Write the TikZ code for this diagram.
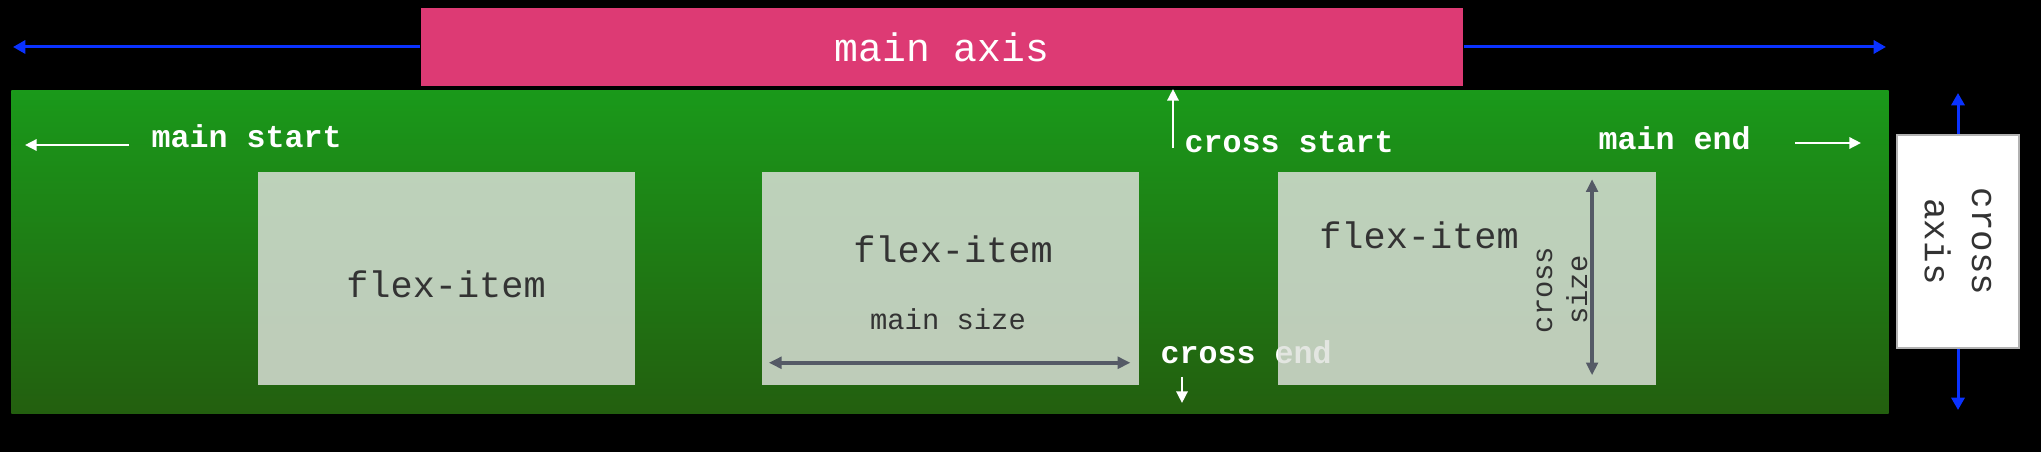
\documentclass[tikz,border=0pt]{standalone}
\usepackage{fontspec}
\setmonofont{Liberation Mono}
\usetikzlibrary{arrows.meta, positioning}
\definecolor{axispink}{RGB}{221,58,116}
\definecolor{axisblue}{RGB}{10,50,255}
\definecolor{flextop}{RGB}{26,153,26}
\definecolor{flexbottom}{RGB}{35,95,15}
\definecolor{itemfill}{RGB}{222,225,220}
\definecolor{itemtext}{RGB}{51,51,51}
\definecolor{sizegray}{RGB}{85,90,102}
\tikzset{
  mainbox/.style={
    rectangle,
    fill=axispink,
    text=white,
    minimum width=10.42cm,
    minimum height=0.78cm,
    inner sep=0pt,
    font=\ttfamily\fontsize{11.3}{13}\selectfont
  },
  crossbox/.style={
    rectangle,
    fill=white,
    draw=gray!60,
    thin,
    minimum width=1.22cm,
    minimum height=2.13cm,
    inner sep=0pt
  },
  container/.style={
    rectangle,
    top color=flextop,
    bottom color=flexbottom,
    minimum width=18.76cm,
    minimum height=3.22cm,
    inner sep=0pt
  },
  flexitem/.style={
    rectangle,
    fill=itemfill,
    fill opacity=0.83,
    minimum width=3.77cm,
    minimum height=2.13cm,
    inner sep=0pt
  },
  itemlabel/.style={
    text=itemtext,
    inner sep=0pt,
    font=\ttfamily\fontsize{10.5}{12}\selectfont
  },
  sizelabel/.style={
    text=itemtext,
    inner sep=0pt,
    align=center,
    font=\ttfamily\fontsize{8.2}{10}\selectfont
  },
  edgelabel/.style={
    text=white,
    inner sep=0pt,
    anchor=base west,
    font=\ttfamily\bfseries\fontsize{9}{11}\selectfont
  },
  axisarrow/.style={-{Triangle[length=3.5pt,width=3.7pt]}, axisblue, line width=0.85pt},
  edgearrow/.style={-{Triangle[length=3.3pt,width=3.2pt]}, white, line width=0.65pt},
  sizearrow/.style={{Triangle[length=3.6pt,width=3.3pt]}-{Triangle[length=3.6pt,width=3.3pt]}, sizegray, line width=1pt}
}

\begin{document}
\begin{tikzpicture}[x=0.01cm, y=-0.01cm]
  \fill[black] (0,0) rectangle (2041,452);
  \useasboundingbox (0,0) rectangle (2041,452);

  % main axis
  \node[mainbox] (mainaxis) at (942,47) {main axis};
  \coordinate (mainleft) at (13,47);
  \coordinate (mainright) at (1886,47);
  \draw[axisarrow] (mainaxis.west) -- (mainleft);
  \draw[axisarrow] (mainaxis.east) -- (mainright);

  % cross axis
  \coordinate (crosstop) at (1958,93);
  \coordinate (crossbottom) at (1958,410);
  \node[crossbox] (crossaxis) at (1958,241.5) {};
  \draw[axisarrow] (crossaxis.north) -- (crosstop);
  \draw[axisarrow] (crossaxis.south) -- (crossbottom);
  \node[rotate=-90, text=itemtext, align=center, inner sep=0pt,
        font=\ttfamily\fontsize{10.2}{13.4}\selectfont] (crossaxislabel)
        at (crossaxis.center) {cross\\axis};

  % flex container
  \node[container] (flexbox) at (950,252) {};

  \node[edgelabel] (mainstart) at (151,148) {main start};
  \node[edgelabel] (crossstart) at (1184,153) {cross start};
  \node[edgelabel] (mainend) at (1598,150) {main end};
  \node[edgelabel] (crossend) at (1160,364) {cross end};

  \coordinate (mainstarttip) at (25,145);
  \coordinate (crossstarttip) at (1173,89);
  \coordinate (mainendtip) at (1861,143);
  \coordinate (crossendtip) at (1182,403);
  \draw[edgearrow] (mainstart.base west) ++(-22,-3) -- (mainstarttip);
  \draw[edgearrow] (crossstart.base west) ++(-11,-5) -- (crossstarttip);
  \draw[edgearrow] (mainend.base east) ++(44,-7) -- (mainendtip);
  \draw[edgearrow] (crossend.base west) ++(22,13) -- (crossendtip);

  % flex items
  \node[flexitem] (item1) at (446.5,278.5) {};
  \node[flexitem, right=1.25cm of item1] (item2) {};
  \node[flexitem, right=1.38cm of item2] (item3) {};

  \node[itemlabel] (item1label) at (446,284) {flex-item};
  \node[itemlabel] (item2label) at (953,249.5) {flex-item};
  \node[itemlabel] (item3label) at (1419,235) {flex-item};

  \node[sizelabel] (mainsize) at (948,319) {main size};
  \draw[sizearrow] (item2.south west) ++(8,-23) -- ++(361.5,0);

  \node[sizelabel, rotate=90] (crosssize) at (1562,290) {cross\\size};
  \draw[sizearrow] (item3.north west) ++(314.5,8) -- ++(0,196);
\end{tikzpicture}
\end{document}
